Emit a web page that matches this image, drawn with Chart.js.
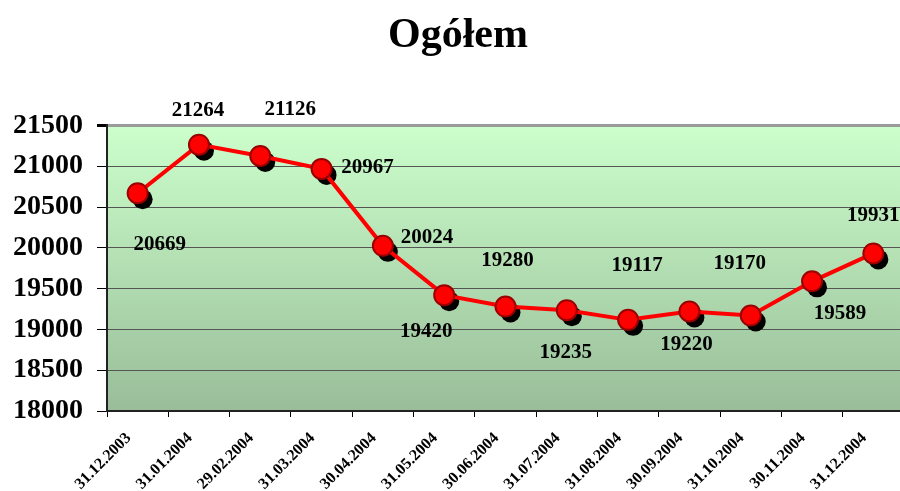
<!DOCTYPE html>
<html>
<head>
<meta charset="utf-8">
<script src="https://cdn.jsdelivr.net/npm/chart.js@4.4.0/dist/chart.umd.min.js"></script>
<style>
  html, body { margin: 0; padding: 0; background: #fff; overflow: hidden; }
  #wrap { width: 916px; height: 491px; }
</style>
</head>
<body>
<div id="wrap"><canvas id="ogolemChart"></canvas></div>
<script>
const categories = ['31.12.2003', '31.01.2004', '29.02.2004', '31.03.2004', '30.04.2004', '31.05.2004',
  '30.06.2004', '31.07.2004', '31.08.2004', '30.09.2004', '31.10.2004', '30.11.2004', '31.12.2004'];
const values = [20669, 21264, 21126, 20967, 20024, 19420, 19280, 19235, 19117, 19220, 19170, 19589, 19931];
const yTicks = [18000, 18500, 19000, 19500, 20000, 20500, 21000, 21500];

// where each value label sits relative to its point (dx, dy of the text centre)
const labelOffsets = [[22, 51], [-1, -34], [30, -46], [46, -1], [44, -8], [-18, 36],
  [2, -46], [-1, 42], [9, -54], [-3, 33], [-11, -52], [28, 32], [0, -38]];

const serif = '"Liberation Serif", "Times New Roman", serif';

// tło obszaru wykresu (gradient), cienie markerów i etykiety wartości
const plotDecor = {
  id: 'plotDecor',
  beforeDraw(chart) {
    const { ctx, chartArea: a } = chart;
    const g = ctx.createLinearGradient(0, a.top, 0, a.bottom);
    g.addColorStop(0, '#ccffcc');
    g.addColorStop(1, '#99bd99');
    ctx.save();
    ctx.fillStyle = g;
    ctx.fillRect(a.left, a.top, a.right - a.left, a.bottom - a.top);
    ctx.restore();
  },
  beforeDatasetsDraw(chart) {
    const { ctx } = chart;
    const meta = chart.getDatasetMeta(0);
    ctx.save();
    ctx.fillStyle = '#000';
    meta.data.forEach(p => {
      ctx.beginPath();
      ctx.arc(p.x + 5, p.y + 6, 10, 0, Math.PI * 2);
      ctx.fill();
    });
    ctx.restore();
  },
  afterDatasetsDraw(chart) {
    const { ctx } = chart;
    const meta = chart.getDatasetMeta(0);
    ctx.save();
    ctx.font = 'bold 21px ' + serif;
    ctx.fillStyle = '#000';
    ctx.textAlign = 'center';
    ctx.textBaseline = 'middle';
    meta.data.forEach((p, i) => {
      const [dx, dy] = labelOffsets[i];
      ctx.fillText(String(values[i]), p.x + dx, p.y + dy);
    });
    ctx.restore();
  }
};

new Chart(document.getElementById('ogolemChart'), {
  type: 'line',
  data: {
    labels: categories,
    datasets: [{
      data: values,
      borderColor: '#ff0000',
      borderWidth: 4,
      tension: 0,
      pointRadius: 10,
      pointHoverRadius: 10,
      pointBackgroundColor: '#ff0000',
      pointBorderColor: '#990000',
      pointBorderWidth: 2
    }]
  },
  options: {
    responsive: true,
    maintainAspectRatio: false,
    animation: false,
    layout: { padding: 0 },
    plugins: {
      legend: { display: false },
      tooltip: { enabled: false },
      title: {
        display: true,
        text: 'Ogółem',
        color: '#000',
        font: { family: serif, size: 42, weight: 'bold' },
        padding: { top: 11, bottom: 64 }
      }
    },
    scales: {
      x: {
        offset: true,
        grid: { display: true, drawOnChartArea: false, offset: true, tickLength: 6, tickColor: '#000', tickWidth: 1 },
        border: { color: '#222', width: 2 },
        ticks: {
          color: '#000',
          font: { family: serif, size: 16, weight: 'bold' },
          maxRotation: 45,
          minRotation: 45,
          autoSkip: false,
          padding: 12,
          labelOffset: -9
        },
        afterFit(scale) { scale.height = 80; }
      },
      y: {
        min: 18000,
        max: 21500,
        afterBuildTicks(scale) { scale.ticks = yTicks.map(v => ({ value: v })); },
        grid: {
          color: ctx => ctx.tick && ctx.tick.value === 21500 ? '#9a9a9a' : '#555',
          lineWidth: ctx => ctx.tick && ctx.tick.value === 21500 ? 3 : 1,
          tickColor: '#000',
          tickLength: 10
        },
        border: { color: '#222', width: 2 },
        ticks: {
          color: '#000',
          font: { family: serif, size: 28, weight: 'bold' },
          padding: 14,
          callback: v => String(v)
        },
        afterFit(scale) { scale.width = 107; }
      }
    }
  },
  plugins: [plotDecor]
});
</script>
</body>
</html>
